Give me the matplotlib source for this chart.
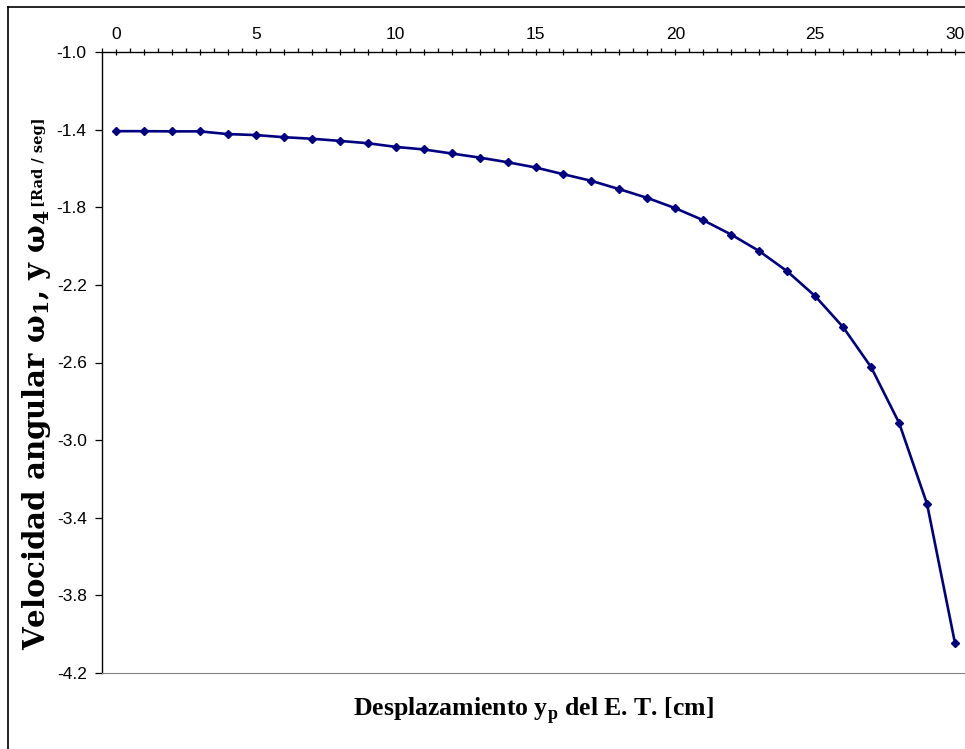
import matplotlib
matplotlib.use('Agg')
import matplotlib.pyplot as plt
from matplotlib.lines import Line2D
from matplotlib.ticker import MultipleLocator, FuncFormatter

# desplazamiento y_p [cm]
desplazamiento = list(range(0, 31))
# velocidad angular [rad/seg]
velocidad = [-1.408, -1.408, -1.409, -1.409, -1.423, -1.428, -1.439, -1.447,
             -1.458, -1.470, -1.489, -1.502, -1.523, -1.544, -1.568, -1.595,
             -1.630, -1.664, -1.707, -1.752, -1.805, -1.867, -1.941, -2.026,
             -2.130, -2.258, -2.418, -2.624, -2.911, -3.329, -4.047]
y_ticks = [-1.0, -1.4, -1.8, -2.2, -2.6, -3.0, -3.4, -3.8, -4.2]

plt.rcParams['font.family'] = ['Liberation Sans', 'DejaVu Sans']
plt.rcParams['mathtext.fontset'] = 'custom'
plt.rcParams['mathtext.bf'] = 'DejaVu Serif:bold'
plt.rcParams['mathtext.rm'] = 'Liberation Serif:bold'

W, H = 965, 749
fig = plt.figure(figsize=(W / 100, H / 100), dpi=100)
ax = fig.add_axes([102 / W, 1 - 673 / H, (969 - 102) / W, (673 - 52) / H])

ax.plot(desplazamiento, velocidad, color='#000080', lw=1.9,
        marker='D', markersize=4.2, markerfacecolor='#000080',
        markeredgecolor='#000080')

ax.set_xlim(-0.5, 30.5)
ax.set_ylim(-4.2, -1.0)

# eje x arriba
ax.xaxis.set_ticks_position('top')
ax.xaxis.set_major_locator(MultipleLocator(1))
ax.xaxis.set_minor_locator(MultipleLocator(0.5))
ax.xaxis.set_major_formatter(FuncFormatter(
    lambda v, p: '%d' % v if round(v) % 5 == 0 else ''))
ax.tick_params(axis='x', which='major', direction='inout', length=5,
               width=0.9, labelsize=12.5, pad=5)
ax.tick_params(axis='x', which='minor', direction='out', length=3,
               width=0.9)

ax.set_yticks(y_ticks)
ax.set_yticklabels(['%.1f' % v for v in y_ticks])
ax.tick_params(axis='y', direction='out', length=5, width=0.9,
               labelsize=12.5, pad=6)

ax.spines['top'].set_color('black')
ax.spines['left'].set_color('black')
ax.spines['top'].set_linewidth(1.0)
ax.spines['left'].set_linewidth(1.0)
ax.spines['bottom'].set_color('#808080')
ax.spines['right'].set_color('#808080')

fig.text(533 / W, 1 - 711 / H, r'Desplazamiento y$_\mathrm{p}$ del E. T. [cm]',
         family='Liberation Serif', weight='bold', fontsize=18.5,
         ha='center', va='center')

# etiqueta y en dos partes (tamanos distintos)
t1 = fig.text(37 / W, 1 - 650 / H,
              r'Velocidad angular ω$_\mathbf{1}$, y ω$_\mathbf{4}$ ',
              family='DejaVu Serif', weight='bold', fontsize=21,
              rotation=90, ha='center', va='bottom')
fig.canvas.draw()
bb = t1.get_window_extent().transformed(fig.transFigure.inverted())
fig.text(37 / W + 0.002, bb.y1, '[Rad / seg]',
         family='DejaVu Serif', weight='bold', fontsize=10.5,
         rotation=90, ha='center', va='bottom')

# marco exterior
fig.add_artist(Line2D([8 / W, 8 / W], [0, 1 - 7 / H], color='black', lw=1.2,
                      transform=fig.transFigure))
fig.add_artist(Line2D([8 / W, 1], [1 - 7 / H, 1 - 7 / H], color='black',
                      lw=1.2, transform=fig.transFigure))

fig.savefig('out.png', dpi=100)
